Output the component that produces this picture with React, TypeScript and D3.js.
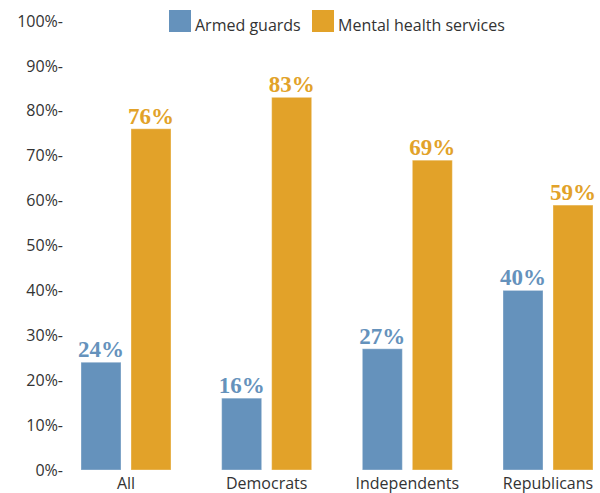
import React from "react";
import * as d3 from "d3";

const categories = ["All", "Democrats", "Independents", "Republicans"];
const seriesNames = ["Armed guards", "Mental health services"];
const armedGuards = [24, 16, 27, 40];
const mentalHealth = [76, 83, 69, 59];
const yTicks = [0, 10, 20, 30, 40, 50, 60, 70, 80, 90, 100];

const W = 600;
const H = 493;
const colors = ["#6592bc", "#e2a229"];
const valueColors = ["#6592bc", "#e2a229"];

export default function App() {
  const y = d3.scaleLinear().domain([0, 100]).range([470, 21]);
  const x = d3.scalePoint<string>().domain(categories).range([126, 548]);
  const inner = d3.scaleBand<number>().domain([0, 1]).range([-45, 45]).paddingInner(0.2);
  const series = [armedGuards, mentalHealth];
  const sans = "'Open Sans', 'Noto Sans', sans-serif";
  const serif = "'Liberation Serif', 'DejaVu Serif', serif";

  return (
    <svg width={W} height={H} style={{ position: "absolute", left: 0, top: 0, background: "#fff" }}>
      {/* y axis labels */}
      {yTicks.map((t) => (
        <text
          key={t}
          x={63}
          y={y(t)}
          dy="0.35em"
          textAnchor="end"
          fontFamily={sans}
          fontSize={16}
          fill="#333"
        >
          {`${t}%-`}
        </text>
      ))}
      {/* bars */}
      {categories.map((c, i) => (
        <g key={c} transform={`translate(${x(c)},0)`}>
          {series.map((s, j) => (
            <g key={j}>
              <rect
                x={inner(j)!}
                y={y(s[i])}
                width={inner.bandwidth()}
                height={y(0) - y(s[i])}
                fill={colors[j]}
                stroke="#ffffff"
                strokeOpacity={0.35}
                strokeWidth={1}
              />
              <text
                x={inner(j)! + inner.bandwidth() / 2}
                y={y(s[i]) - 5}
                textAnchor="middle"
                fontFamily={serif}
                fontWeight="bold"
                fontSize={23}
                fill={valueColors[j]}
              >
                {`${s[i]}%`}
              </text>
            </g>
          ))}
          <text
            x={0}
            y={489}
            textAnchor="middle"
            fontFamily={sans}
            fontSize={16}
            fill="#333"
          >
            {c}
          </text>
        </g>
      ))}
      {/* legend */}
      <g>
        <rect x={169} y={10} width={22} height={22} fill={colors[0]} />
        <text x={195} y={31} fontFamily={sans} fontSize={16} fill="#333">
          {seriesNames[0]}
        </text>
        <rect x={312} y={10} width={22} height={22} fill={colors[1]} />
        <text x={338} y={31} fontFamily={sans} fontSize={16} fill="#333">
          {seriesNames[1]}
        </text>
      </g>
    </svg>
  );
}
